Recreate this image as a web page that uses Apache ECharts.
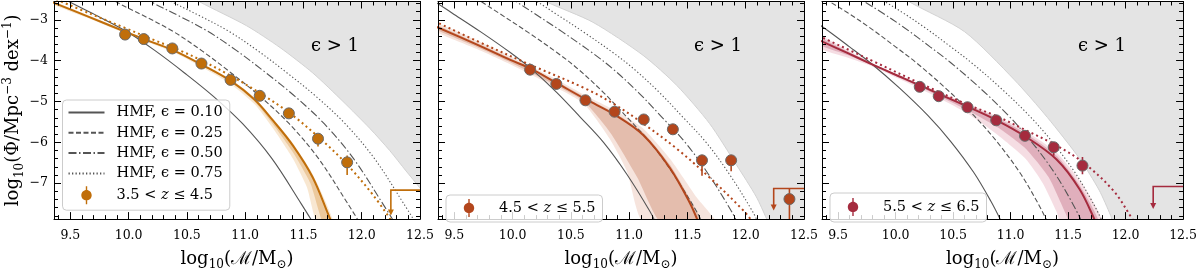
<!DOCTYPE html>
<html><head><meta charset="utf-8">
<script src="https://cdn.jsdelivr.net/npm/echarts@6/dist/echarts.min.js"></script>
<style>html,body{margin:0;padding:0;background:#fff}#c{width:1200px;height:276px}</style>
</head><body><div id="c"></div>
<script>
// ---------- ticks ----------
const xMajorTicks = [9.5,10.0,10.5,11.0,11.5,12.0,12.5];
const xMinorTicks = [9.4,9.5,9.6,9.7,9.8,9.9,10.0,10.1,10.2,10.3,10.4,10.5,10.6,10.7,10.8,10.9,11.0,11.1,11.2,11.3,11.4,11.5,11.6,11.7,11.8,11.9,12.0,12.1,12.2,12.3,12.4,12.5];
const yMajorTicks = [-7,-6,-5,-4,-3];
const yMinorTicks = [-7.8,-7.6,-7.4,-7.2,-7.0,-6.8,-6.6,-6.4,-6.2,-6.0,-5.8,-5.6,-5.4,-5.2,-5.0,-4.8,-4.6,-4.4,-4.2,-4.0,-3.8,-3.6,-3.4,-3.2,-3.0,-2.8,-2.6];
const xRange = [9.36, 12.5];
const yRange = [-7.88, -2.55];

// ---------- labels ----------
const epsLabels = ['HMF, ϵ = 0.10','HMF, ϵ = 0.25','HMF, ϵ = 0.50','HMF, ϵ = 0.75'];
const zLabels = ['3.5 < z ≤ 4.5','4.5 < z ≤ 5.5','5.5 < z ≤ 6.5'];

// ---------- panel 1 (3.5 < z <= 4.5) ----------
const p1HmfY   = [-2.45,-2.60,-2.90,-3.28,-3.76,-4.30,-4.88,-5.55,-6.40,-7.50,-8.05];
const p1HmfX10 = [9.43,9.52,9.73,9.98,10.23,10.48,10.73,10.98,11.23,11.48,11.60];
const p1HmfX25 = [9.83,9.92,10.13,10.38,10.63,10.88,11.13,11.38,11.63,11.88,12.00];
const p1HmfX50 = [10.13,10.22,10.43,10.68,10.93,11.18,11.43,11.68,11.93,12.18,12.30];
const p1HmfX75 = [10.31,10.40,10.61,10.86,11.11,11.36,11.61,11.86,12.11,12.36,12.48];
const p1EdgeX  = [10.53,10.61,11.01,11.30,11.58,11.84,12.07,12.24,12.38,12.50,12.62];
const p1EdgeY  = [-2.40,-2.56,-3.14,-3.68,-4.30,-5.00,-5.66,-6.20,-6.70,-7.12,-7.60];
const p1FitX   = [9.33,9.68,9.98,10.13,10.38,10.63,10.88,11.08,11.24,11.41,11.58,11.73,11.76];
const p1FitY   = [-2.55,-2.95,-3.30,-3.47,-3.74,-4.10,-4.50,-4.95,-5.47,-6.08,-6.86,-7.88,-8.05];
const p1DotX   = [9.38,9.68,9.98,10.18,10.44,10.63,10.87,11.13,11.39,11.64,11.87,12.10,12.25];
const p1DotY   = [-2.50,-2.86,-3.21,-3.45,-3.75,-4.00,-4.36,-4.80,-5.30,-5.90,-6.53,-7.30,-7.90];
const p1LightUX = [9.33,9.68,9.98,10.38,10.63,10.88,11.08,11.24,11.41,11.58,11.76];
const p1LightUY = [-2.52,-2.92,-3.27,-3.71,-4.07,-4.46,-4.90,-5.42,-6.02,-6.78,-8.00];
const p1LightLX = [9.33,9.68,9.98,10.38,10.63,10.88,11.08,11.24,11.41,11.53,11.62];
const p1LightLY = [-2.60,-2.99,-3.34,-3.79,-4.16,-4.58,-5.06,-5.66,-6.40,-7.10,-8.00];
const p1DarkUX  = [9.33,9.68,9.98,10.38,10.63,10.88,11.08,11.24,11.41,11.58,11.74];
const p1DarkUY  = [-2.54,-2.94,-3.29,-3.73,-4.09,-4.49,-4.93,-5.45,-6.06,-6.84,-8.00];
const p1DarkLX  = [9.33,9.68,9.98,10.38,10.63,10.88,11.08,11.24,11.41,11.56,11.67];
const p1DarkLY  = [-2.57,-2.97,-3.32,-3.76,-4.12,-4.53,-5.00,-5.56,-6.24,-7.00,-8.00];
const p1PtX   = [9.97,10.13,10.375,10.625,10.875,11.125,11.375,11.625,11.875];
const p1PtY   = [-3.36,-3.47,-3.70,-4.07,-4.47,-4.86,-5.29,-5.91,-6.49];
const p1ErrLo = [0.03,0.03,0.03,0.03,0.04,0.05,0.06,0.19,0.31];
const p1ErrHi = [0.03,0.03,0.03,0.03,0.04,0.05,0.06,0.10,0.17];
const p1Limit = [12.25,-7.17,-7.79];   // x, level, arrow tip

// ---------- panel 2 (4.5 < z <= 5.5) ----------
const p2HmfY   = [-2.45,-2.55,-2.83,-3.30,-3.80,-4.20,-4.78,-5.38,-6.00,-6.78,-7.70,-8.05];
const p2HmfX10 = [9.28,9.33,9.48,9.73,9.98,10.16,10.38,10.58,10.78,10.98,11.18,11.24];
const p2HmfX25 = [9.68,9.73,9.88,10.13,10.38,10.56,10.78,10.98,11.18,11.38,11.58,11.64];
const p2HmfX50 = [9.98,10.03,10.18,10.43,10.68,10.86,11.08,11.28,11.48,11.68,11.88,11.94];
const p2HmfX75 = [10.16,10.21,10.36,10.61,10.86,11.04,11.26,11.46,11.66,11.86,12.06,12.12];
const p2EdgeX  = [10.23,10.29,10.69,11.12,11.41,11.69,11.92,12.09,12.18,12.21];
const p2EdgeY  = [-2.45,-2.56,-3.06,-3.87,-4.61,-5.54,-6.55,-7.33,-7.88,-8.10];
const p2FitX   = [9.33,9.69,9.98,10.16,10.38,10.63,10.88,11.12,11.35,11.52,11.60,11.64];
const p2FitY   = [-3.15,-3.60,-3.98,-4.20,-4.55,-4.95,-5.33,-5.82,-6.63,-7.48,-8.00,-8.30];
const p2DotX   = [9.33,9.68,10.16,10.63,10.88,11.12,11.41,11.69,11.98,12.06];
const p2DotY   = [-3.03,-3.50,-4.11,-4.69,-5.08,-5.54,-6.16,-6.86,-7.67,-7.95];
const p2LightUX = [9.33,9.69,9.98,10.38,10.63,10.88,11.12,11.35,11.58,11.76];
const p2LightUY = [-3.06,-3.50,-3.89,-4.46,-4.86,-5.22,-5.66,-6.40,-7.35,-8.05];
const p2LightLX = [9.33,9.69,9.98,10.38,10.61,10.83,10.98,11.13];
const p2LightLY = [-3.27,-3.71,-4.09,-4.67,-5.05,-5.90,-6.70,-8.00];
const p2DarkUX  = [9.33,9.69,9.98,10.38,10.63,10.88,11.12,11.35,11.52,11.62];
const p2DarkUY  = [-3.11,-3.56,-3.94,-4.51,-4.91,-5.29,-5.76,-6.55,-7.38,-8.00];
const p2DarkLX  = [9.33,9.69,9.98,10.38,10.61,10.84,11.07,11.28];
const p2DarkLY  = [-3.22,-3.66,-4.04,-4.62,-4.99,-5.77,-6.86,-8.00];
const p2PtX   = [10.15,10.375,10.625,10.875,11.125,11.375,11.625,11.875,12.375];
const p2PtY   = [-4.22,-4.57,-4.97,-5.25,-5.44,-5.68,-6.44,-6.44,-7.39];
const p2ErrLo = [0.03,0.03,0.03,0.04,0.05,0.06,0.38,0.27,0.60];
const p2ErrHi = [0.03,0.03,0.03,0.04,0.05,0.06,0.12,0.12,0.26];
const p2Limit = [12.24,-7.13,-7.67];

// ---------- panel 3 (5.5 < z <= 6.5) ----------
const p3HmfY   = [-2.40,-2.56,-2.82,-3.18,-3.66,-4.05,-4.66,-5.34,-5.98,-6.74,-7.45,-8.00];
const p3HmfX10 = [8.93,9.03,9.18,9.37,9.60,9.78,10.03,10.28,10.48,10.68,10.83,10.93];
const p3HmfX25 = [9.33,9.43,9.58,9.77,10.00,10.18,10.43,10.68,10.88,11.08,11.23,11.33];
const p3HmfX50 = [9.63,9.73,9.88,10.07,10.30,10.48,10.73,10.98,11.18,11.38,11.53,11.63];
const p3HmfX75 = [9.81,9.91,10.06,10.25,10.48,10.66,10.91,11.16,11.36,11.56,11.71,11.81];
const p3EdgeX  = [10.08,10.12,10.60,11.03,11.32,11.60,11.77,11.87,11.90];
const p3EdgeY  = [-2.45,-2.56,-3.29,-4.46,-5.39,-6.40,-7.17,-7.79,-8.00];
const p3FitX   = [9.33,9.58,9.78,9.98,10.21,10.38,10.63,10.88,11.13,11.40,11.60,11.74,11.78];
const p3FitY   = [-3.49,-3.81,-4.07,-4.32,-4.60,-4.82,-5.13,-5.46,-5.86,-6.42,-7.15,-7.95,-8.20];
const p3DotX   = [9.33,9.78,10.21,10.63,10.88,11.13,11.38,11.62,11.89,12.06,12.10];
const p3DotY   = [-3.39,-3.98,-4.55,-5.08,-5.36,-5.70,-6.05,-6.47,-7.17,-7.88,-8.05];
const p3LightUX = [9.33,9.58,9.78,9.98,10.21,10.38,10.63,10.88,11.13,11.40,11.63,11.80];
const p3LightUY = [-3.38,-3.74,-4.03,-4.30,-4.57,-4.77,-5.06,-5.36,-5.72,-6.25,-7.05,-8.00];
const p3LightLX = [9.33,9.58,9.78,9.98,10.21,10.38,10.63,10.88,11.13,11.28,11.40,11.45];
const p3LightLY = [-3.68,-3.92,-4.12,-4.38,-4.68,-4.92,-5.30,-5.80,-6.40,-7.00,-7.70,-8.05];
const p3DarkUX  = [9.33,9.58,9.78,9.98,10.21,10.38,10.63,10.88,11.13,11.40,11.60,11.77];
const p3DarkUY  = [-3.43,-3.77,-4.05,-4.31,-4.58,-4.79,-5.09,-5.40,-5.78,-6.33,-7.05,-8.00];
const p3DarkLX  = [9.33,9.58,9.78,9.98,10.21,10.38,10.63,10.88,11.13,11.33,11.48,11.54];
const p3DarkLY  = [-3.60,-3.86,-4.09,-4.35,-4.64,-4.87,-5.22,-5.62,-6.15,-6.85,-7.75,-8.10];
const p3PtX   = [10.21,10.375,10.625,10.875,11.125,11.375,11.625];
const p3PtY   = [-4.64,-4.87,-5.14,-5.46,-5.84,-6.12,-6.57];
const p3ErrLo = [0.03,0.03,0.03,0.04,0.06,0.21,0.21];
const p3ErrHi = [0.03,0.03,0.03,0.04,0.06,0.07,0.21];
const p3Limit = [12.24,-7.08,-7.63];

// ---------- assembly ----------
const zip = (xs, ys) => xs.map((x, i) => [x, ys[i]]);
const FONT = 'DejaVu Serif';
const gridLefts = [54, 438, 822];
const GRID_W = 366, GRID_TOP = 1.5, GRID_H = 229.5;

const panels = [
  {hmfY:p1HmfY, hmfX:[p1HmfX10,p1HmfX25,p1HmfX50,p1HmfX75], edge:zip(p1EdgeX,p1EdgeY),
   fit:zip(p1FitX,p1FitY), dot:zip(p1DotX,p1DotY),
   light:zip(p1LightUX,p1LightUY).concat(zip(p1LightLX,p1LightLY).reverse()),
   dark:zip(p1DarkUX,p1DarkUY).concat(zip(p1DarkLX,p1DarkLY).reverse()),
   ptX:p1PtX, ptY:p1PtY, lo:p1ErrLo, hi:p1ErrHi, limit:p1Limit,
   color:'#c06e0a', lightC:'rgba(238,196,140,0.40)', darkC:'rgba(222,164,92,0.45)', label:zLabels[0]},
  {hmfY:p2HmfY, hmfX:[p2HmfX10,p2HmfX25,p2HmfX50,p2HmfX75], edge:zip(p2EdgeX,p2EdgeY),
   fit:zip(p2FitX,p2FitY), dot:zip(p2DotX,p2DotY),
   light:zip(p2LightUX,p2LightUY).concat(zip(p2LightLX,p2LightLY).reverse()),
   dark:zip(p2DarkUX,p2DarkUY).concat(zip(p2DarkLX,p2DarkLY).reverse()),
   ptX:p2PtX, ptY:p2PtY, lo:p2ErrLo, hi:p2ErrHi, limit:p2Limit,
   color:'#b3461c', lightC:'rgba(236,196,180,0.45)', darkC:'rgba(210,150,125,0.50)', label:zLabels[1]},
  {hmfY:p3HmfY, hmfX:[p3HmfX10,p3HmfX25,p3HmfX50,p3HmfX75], edge:zip(p3EdgeX,p3EdgeY),
   fit:zip(p3FitX,p3FitY), dot:zip(p3DotX,p3DotY),
   light:zip(p3LightUX,p3LightUY).concat(zip(p3LightLX,p3LightLY).reverse()),
   dark:zip(p3DarkUX,p3DarkUY).concat(zip(p3DarkLX,p3DarkLY).reverse()),
   ptX:p3PtX, ptY:p3PtY, lo:p3ErrLo, hi:p3ErrHi, limit:p3Limit,
   color:'#a52b3e', lightC:'rgba(232,180,192,0.45)', darkC:'rgba(200,120,140,0.45)', label:zLabels[2]}
];
const hmfDash = ['solid', [5,2.5], [8,2.5,1.5,2.5], [1.3,2.2]];

const grids = [], xAxes = [], yAxes = [], series = [];
const axisNameRich = {
  s:{fontSize:12, fontFamily:FONT, verticalAlign:'bottom', lineHeight:13, color:'#000'},
  p:{fontSize:12, fontFamily:FONT, verticalAlign:'top', lineHeight:13, color:'#000'}
};
panels.forEach((P, i) => {
  grids.push({left:gridLefts[i], top:GRID_TOP, width:GRID_W, height:GRID_H, containLabel:false});
  const xb = {gridIndex:i, type:'value', min:xRange[0], max:xRange[1], z:10, splitLine:{show:false},
              axisLine:{show:true, onZero:false, lineStyle:{color:'#000', width:1}}};
  xAxes.push(Object.assign({}, xb, {position:'bottom',
    axisTick:{inside:true, length:7, customValues:xMajorTicks, lineStyle:{color:'#000', width:1}},
    axisLabel:{customValues:xMajorTicks, formatter:v => Number(v).toFixed(1), fontFamily:FONT, fontSize:12.5, color:'#000', margin:10},
    name:'log{s|10}(ℳ/M{s|⊙})', nameLocation:'middle', nameGap:26,
    nameTextStyle:{fontFamily:FONT, fontSize:18, color:'#000', lineHeight:24, rich:axisNameRich}}));
  xAxes.push(Object.assign({}, xb, {position:'bottom', axisLine:{show:false, onZero:false},
    axisTick:{inside:true, length:4, customValues:xMinorTicks, lineStyle:{color:'#000', width:1}}, axisLabel:{show:false}}));
  xAxes.push(Object.assign({}, xb, {position:'top',
    axisTick:{inside:true, length:7, customValues:xMajorTicks, lineStyle:{color:'#000', width:1}}, axisLabel:{show:false}}));
  xAxes.push(Object.assign({}, xb, {position:'top', axisLine:{show:false, onZero:false},
    axisTick:{inside:true, length:4, customValues:xMinorTicks, lineStyle:{color:'#000', width:1}}, axisLabel:{show:false}}));

  const yb = {gridIndex:i, type:'value', min:yRange[0], max:yRange[1], z:10, splitLine:{show:false},
              axisLine:{show:true, onZero:false, lineStyle:{color:'#000', width:1}}};
  const yMain = Object.assign({}, yb, {position:'left',
    axisTick:{inside:true, length:7, customValues:yMajorTicks, lineStyle:{color:'#000', width:1}},
    axisLabel:{show:i===0, customValues:yMajorTicks, formatter:v => String(v).replace('-', '−'), fontFamily:FONT, fontSize:12.5, color:'#000', margin:6}});
  if (i === 0) Object.assign(yMain, {name:'log{s|10}(Φ/Mpc{p|−3} dex{p|−1})', nameLocation:'middle', nameGap:20,
    nameTextStyle:{fontFamily:FONT, fontSize:18, color:'#000', lineHeight:24, rich:axisNameRich}});
  yAxes.push(yMain);
  yAxes.push(Object.assign({}, yb, {position:'left', axisLine:{show:false, onZero:false},
    axisTick:{inside:true, length:4, customValues:yMinorTicks, lineStyle:{color:'#000', width:1}}, axisLabel:{show:false}}));
  yAxes.push(Object.assign({}, yb, {position:'right',
    axisTick:{inside:true, length:7, customValues:yMajorTicks, lineStyle:{color:'#000', width:1}}, axisLabel:{show:false}}));
  yAxes.push(Object.assign({}, yb, {position:'right', axisLine:{show:false, onZero:false},
    axisTick:{inside:true, length:4, customValues:yMinorTicks, lineStyle:{color:'#000', width:1}}, axisLabel:{show:false}}));

  const ax = {xAxisIndex:4*i, yAxisIndex:4*i};
  // epsilon > 1 region
  series.push(Object.assign({type:'custom', clip:true, silent:true, z:1, data:P.edge,
    renderItem:(params, api) => {
      if (params.dataIndex !== 0) return null;
      const cs = params.coordSys;
      const pts = P.edge.map(d => api.coord(d));
      pts.push([cs.x + cs.width + 10, cs.y + cs.height + 10]);
      pts.push([cs.x + cs.width + 10, cs.y - 10]);
      pts.push([pts[0][0], cs.y - 10]);
      return {type:'polygon', shape:{points:pts, smooth:0.25}, style:{fill:'#e4e4e4', stroke:'#d2d2d2', lineWidth:1}};
    }}, ax));
  // bands
  [[P.light, P.lightC], [P.dark, P.darkC]].forEach(([poly, col], k) => {
    series.push(Object.assign({type:'custom', clip:true, silent:true, z:2 + k * 0.1, data:poly,
      renderItem:(params, api) => {
        if (params.dataIndex !== 0) return null;
        return {type:'polygon', shape:{points:poly.map(d => api.coord(d)), smooth:0.2}, style:{fill:col, stroke:'none'}};
      }}, ax));
  });
  // HMF lines
  P.hmfX.forEach((xs, k) => {
    series.push(Object.assign({type:'line', name:epsLabels[k], data:zip(xs, P.hmfY), symbol:'none', showSymbol:false,
      smooth:0.35, clip:true, silent:true, z:3,
      lineStyle:{color:'#555555', width:1.1, type:hmfDash[k]}, itemStyle:{color:'#555555'}}, ax));
  });
  // fits
  series.push(Object.assign({type:'line', data:P.fit, symbol:'none', smooth:0.35, clip:true, silent:true, z:4,
    lineStyle:{color:P.color, width:2}}, ax));
  series.push(Object.assign({type:'line', data:P.dot, symbol:'none', smooth:0.35, clip:true, silent:true, z:4,
    lineStyle:{color:P.color, width:2, type:[2,3.2], cap:'butt'}}, ax));
  // error bars
  series.push(Object.assign({type:'custom', clip:true, silent:true, z:5,
    data:P.ptX.map((x, j) => [x, P.ptY[j] - P.lo[j], P.ptY[j] + P.hi[j]]),
    renderItem:(params, api) => {
      const a = api.coord([api.value(0), api.value(1)]);
      const b = api.coord([api.value(0), api.value(2)]);
      return {type:'line', shape:{x1:a[0], y1:a[1], x2:b[0], y2:b[1]}, style:{stroke:P.color, lineWidth:1.6}};
    }}, ax));
  // upper limit marker
  series.push(Object.assign({type:'custom', clip:true, silent:true, z:5, data:[P.limit],
    renderItem:(params, api) => {
      const cs = params.coordSys;
      const top = api.coord([api.value(0), api.value(1)]);
      const tip = api.coord([api.value(0), api.value(2)]);
      return {type:'group', children:[
        {type:'polyline', shape:{points:[[cs.x + cs.width + 5, top[1]], top, [tip[0], tip[1] - 4]]}, style:{stroke:P.color, lineWidth:1.6, fill:null}},
        {type:'polygon', shape:{points:[[tip[0] - 3, tip[1] - 6], [tip[0] + 3, tip[1] - 6], tip]}, style:{fill:P.color}}
      ]};
    }}, ax));
  // data points
  series.push(Object.assign({type:'scatter', name:P.label, data:zip(P.ptX, P.ptY), symbol:'circle', symbolSize:11, z:6, silent:true,
    itemStyle:{color:P.color, borderColor:'#6a6a6a', borderWidth:1, opacity:1}}, ax));
});

// legend marker: circle (bezier) with vertical error bar, in a 36x18 box
const dataIcon = 'path://M0,9L0,9M36,9L36,9M17.3,0H18.7V18H17.3ZM23.2,9C23.2,11.87 20.87,14.2 18,14.2C15.13,14.2 12.8,11.87 12.8,9C12.8,6.13 15.13,3.8 18,3.8C20.87,3.8 23.2,6.13 23.2,9Z';
const legendBase = {orient:'vertical', itemWidth:36, itemHeight:18, itemGap:5.3, selectedMode:false, z:20,
  backgroundColor:'rgba(255,255,255,0.8)', borderColor:'#cccccc', borderWidth:1, borderRadius:4,
  textStyle:{fontFamily:FONT, fontSize:14.5, color:'#000', padding:[0,0,0,7],
             rich:{i:{fontFamily:FONT, fontSize:14.5, fontStyle:'italic', color:'#000'}}},
  formatter:name => name.replace(' z ', ' {i|z} ')};
const lineItems = epsLabels.map(n => ({name:n, itemStyle:{opacity:0}}));
const dataItem = n => ({name:n, icon:dataIcon, itemStyle:{borderWidth:0}});
const legends = [
  Object.assign({}, legendBase, {left:62.5, top:100, padding:[5,7,6,5], data:lineItems.concat([dataItem(zLabels[0])])}),
  Object.assign({}, legendBase, {left:446, top:195, padding:[4,7,5,5], data:[dataItem(zLabels[1])]}),
  Object.assign({}, legendBase, {left:830, top:193, padding:[5,7,6,5], data:[dataItem(zLabels[2])]})
];

const epsText = [335, 718, 1102].map(x => ({type:'text', x:x, y:46.7, z:15,
  style:{text:'ϵ > 1', fontFamily:FONT, fontSize:18, fill:'#000', align:'center', verticalAlign:'middle',
         textAlign:'center', textVerticalAlign:'middle'}}));

const chart = echarts.init(document.getElementById('c'), null, {renderer:'canvas'});
chart.setOption({animation:false, backgroundColor:'#fff', grid:grids, xAxis:xAxes, yAxis:yAxes,
  legend:legends, series:series, graphic:epsText});
</script></body></html>
